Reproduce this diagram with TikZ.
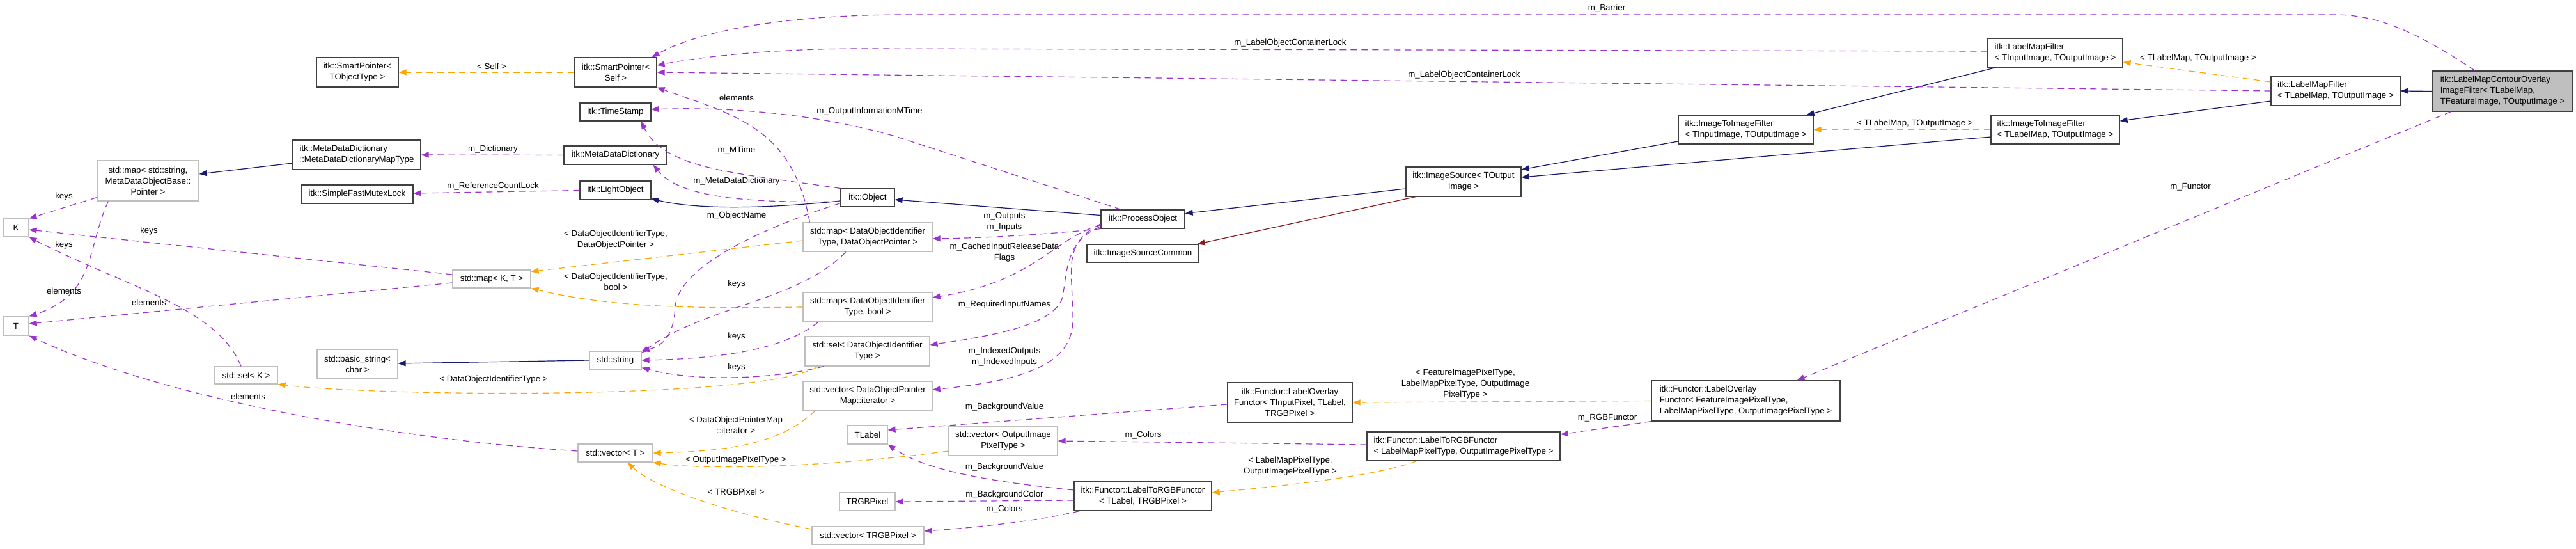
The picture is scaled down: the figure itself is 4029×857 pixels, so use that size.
\documentclass[tikz,border=0pt]{standalone}
\usepackage{fontspec}
\setmainfont{Liberation Sans}
\usetikzlibrary{arrows.meta}
\definecolor{purp}{HTML}{9A32CD}
\definecolor{orng}{HTML}{FFA500}
\definecolor{navyc}{HTML}{191970}
\definecolor{dred}{HTML}{8B1A1A}
\definecolor{bdark}{HTML}{404040}
\definecolor{bgray}{HTML}{BFBFBF}
\begin{document}
\begin{tikzpicture}[x=1pt,y=-1pt,
  every node/.style={font=\fontsize{13.3}{17}\selectfont, inner sep=0pt},
  cls/.style={draw=bdark, line width=1.2pt, fill=white, rectangle, align=center},
  clsl/.style={cls, align=left},
  ext/.style={cls, draw=bgray},
  lbl/.style={align=center},
  inh/.style={draw=navyc, line width=1.2pt, -{Triangle[length=12pt,width=9pt]}},
  prot/.style={inh, draw=dred},
  use/.style={draw=purp, line width=1.2pt, dash pattern=on 10pt off 7pt, -{Triangle[length=12pt,width=9pt]}},
  tmpl/.style={use, draw=orng},
]
\useasboundingbox (0,0) rectangle (4029,857);

% ---------- nodes ----------
\node[cls, minimum width=128pt, minimum height=46pt] (spTO) at (559,113) {itk::SmartPointer<\\TObjectType >};
\node[clsl, minimum width=200pt, minimum height=46pt] (mddMT) at (558,242) {itk::MetaDataDictionary\\::MetaDataDictionaryMapType};
\node[ext, minimum width=159pt, minimum height=63pt] (mapStr) at (231.5,282.5) {std::map< std::string,\\MetaDataObjectBase::\\Pointer >};
\node[cls, minimum width=175pt, minimum height=29pt] (sfml) at (558.5,303.5) {itk::SimpleFastMutexLock};
\node[ext, minimum width=40pt, minimum height=28pt] (K) at (25,356) {K};
\node[ext, minimum width=40pt, minimum height=29pt] (T) at (25,509.5) {T};
\node[ext, minimum width=98pt, minimum height=27pt] (setK) at (385,586.5) {std::set< K >};
\node[ext, minimum width=126pt, minimum height=46pt] (bstr) at (559,569) {std::basic\_string<\\char >};
\node[cls, minimum width=128pt, minimum height=46pt] (spSelf) at (963,113) {itk::SmartPointer<\\Self >};
\node[cls, minimum width=111pt, minimum height=28pt] (ts) at (962.5,175) {itk::TimeStamp};
\node[cls, minimum width=161pt, minimum height=29pt] (mdd) at (962.5,242.5) {itk::MetaDataDictionary};
\node[cls, minimum width=111pt, minimum height=29pt] (lo) at (962.5,297.5) {itk::LightObject};
\node[cls, minimum width=84pt, minimum height=28pt] (obj) at (1357,309) {itk::Object};
\node[ext, minimum width=202pt, minimum height=45pt] (mapDOP) at (1357,370.5) {std::map< DataObjectIdentifier\\Type, DataObjectPointer >};
\node[ext, minimum width=122pt, minimum height=28pt] (mapKT) at (769,436) {std::map< K, T >};
\node[ext, minimum width=202pt, minimum height=46pt] (mapBool) at (1357,480) {std::map< DataObjectIdentifier\\Type, bool >};
\node[ext, minimum width=81pt, minimum height=28pt] (str) at (962.5,563) {std::string};
\node[ext, minimum width=195pt, minimum height=46pt] (setDOIT) at (1356.5,549) {std::set< DataObjectIdentifier\\Type >};
\node[ext, minimum width=202pt, minimum height=45pt] (vecIt) at (1357,618.5) {std::vector< DataObjectPointer\\Map::iterator >};
\node[ext, minimum width=62pt, minimum height=29pt] (tlabel) at (1357,679.5) {TLabel};
\node[ext, minimum width=117pt, minimum height=28pt] (vecT) at (962.5,708) {std::vector< T >};
\node[ext, minimum width=87pt, minimum height=28pt] (trgb) at (1356.5,784) {TRGBPixel};
\node[ext, minimum width=175pt, minimum height=28pt] (vecRGB) at (1357.5,837) {std::vector< TRGBPixel >};
\node[cls, minimum width=131pt, minimum height=29pt] (po) at (1787.5,342.5) {itk::ProcessObject};
\node[cls, minimum width=175pt, minimum height=28pt] (isc) at (1787.5,396) {itk::ImageSourceCommon};
\node[cls, minimum width=195pt, minimum height=62pt] (lofT) at (2017.5,629) {itk::Functor::LabelOverlay\\Functor< TInputPixel, TLabel,\\TRGBPixel >};
\node[ext, minimum width=170pt, minimum height=46pt] (vecOut) at (1569,689) {std::vector< OutputImage\\PixelType >};
\node[cls, minimum width=215pt, minimum height=45pt] (l2rT) at (1787.5,775.5) {itk::Functor::LabelToRGBFunctor\\< TLabel, TRGBPixel >};
\node[cls, minimum width=180pt, minimum height=46pt] (is) at (2289,284) {itk::ImageSource< TOutput\\Image >};
\node[clsl, minimum width=211pt, minimum height=45pt] (i2iIn) at (2730.5,202.5) {itk::ImageToImageFilter\\< TInputImage, TOutputImage >};
\node[clsl, minimum width=302pt, minimum height=45pt] (l2rL) at (2289,697.5) {itk::Functor::LabelToRGBFunctor\\< LabelMapPixelType, OutputImagePixelType >};
\node[clsl, minimum width=295pt, minimum height=63pt] (lofF) at (2730.5,626.5) {itk::Functor::LabelOverlay\\Functor< FeatureImagePixelType,\\ LabelMapPixelType, OutputImagePixelType >};
\node[clsl, minimum width=211pt, minimum height=45pt] (lmfIn) at (3214.5,82.5) {itk::LabelMapFilter\\< TInputImage, TOutputImage >};
\node[clsl, minimum width=201pt, minimum height=45pt] (i2iL) at (3214.5,202.5) {itk::ImageToImageFilter\\< TLabelMap, TOutputImage >};
\node[clsl, minimum width=202pt, minimum height=46pt] (lmfL) at (3653,142) {itk::LabelMapFilter\\< TLabelMap, TOutputImage >};
\node[clsl, fill=bgray, minimum width=218pt, minimum height=63pt] (main) at (3914,142.5) {itk::LabelMapContourOverlay\\ImageFilter< TLabelMap,\\ TFeatureImage, TOutputImage >};

% ---------- inheritance ----------
\draw[inh] ([yshift=-5pt]obj.west) .. controls (1200,326) and (1090,328) .. ([yshift=-13pt]lo.east);
\draw[inh] ([yshift=6pt]po.west) -- ([yshift=-3pt]obj.east);
\draw[inh] ([yshift=-11pt]is.west) -- ([yshift=9pt]po.east);
\draw[prot] ([xshift=-75pt]is.south) -- ([xshift=-3pt]isc.north east);
\draw[inh] ([yshift=-18.5pt]i2iIn.west) -- ([yshift=19pt]is.east);
\draw[inh] ([yshift=-11.5pt]i2iL.west) -- ([yshift=7pt]is.east);
\draw[inh] ([xshift=13pt]lmfIn.south west) -- ([xshift=-11pt]i2iIn.north east);
\draw[inh] ([yshift=-16pt]lmfL.west) -- ([yshift=13.5pt]i2iL.east);
\draw[inh] (main.west) -- (lmfL.east);
\draw[inh] ([yshift=-13pt]mddMT.west) -- ([yshift=10.5pt]mapStr.east);
\draw[inh] (str.west) -- ([yshift=1pt]bstr.east);

% ---------- template instances ----------
\draw[tmpl] (spSelf.west) -- (spTO.east);
\draw[tmpl] ([yshift=-5.5pt]mapDOP.west) -- ([yshift=-3pt]mapKT.north east);
\draw[tmpl] (mapBool.west) .. controls (1100,482) and (960,482) .. (mapKT.south east);
\draw[tmpl] ([xshift=21pt]setDOIT.south west) .. controls (1200,625) and (600,620) .. (setK.south east);
\draw[tmpl] ([xshift=20pt]vecIt.south west) .. controls (1225,690) and (1150,705) .. (vecT.east);
\draw[tmpl] ([yshift=-16pt]vecOut.west) .. controls (1300,730) and (1100,735) .. (vecT.south east);
\draw[tmpl] ([yshift=10pt]vecRGB.west) .. controls (1130,800) and (1020,760) .. ([xshift=19pt]vecT.south);
\draw[tmpl] ([xshift=78pt]l2rL.south west) .. controls (2150,745) and (2000,760) .. ([yshift=5.5pt]l2rT.east);
\draw[tmpl] (lofF.west) -- (lofT.east);
\draw[tmpl] ([yshift=14pt]lmfL.west) -- ([yshift=-14.5pt]lmfIn.east);
\draw[tmpl] (i2iL.west) -- (i2iIn.east);

% ---------- usage ----------
\draw[use] ([xshift=-43pt]main.north) .. controls (3780,50) and (3720,23) .. (3650,23) -- (1420,23) .. controls (1200,23) and (1080,55) .. ([xshift=-8pt]spSelf.north east);
\draw[use] ([yshift=2.5pt]lmfIn.west) -- (1350,76) .. controls (1200,76) and (1090,90) .. ([yshift=11pt]spSelf.east);
\draw[use] (lmfL.west) -- (spSelf.east);
\draw[use] ([xshift=11pt]mapDOP.north west) .. controls (1240,200) and (1150,180) .. (spSelf.south east);
\draw[use] (obj.north west) .. controls (1150,270) and (1040,265) .. ([xshift=40pt]ts.south);
\draw[use] ([xshift=-34pt]po.north) -- (1400,213) .. controls (1250,170) and (1100,168) .. ([yshift=4pt]ts.east);
\draw[use] ([yshift=-6pt]obj.west) .. controls (1150,318) and (1060,305) .. ([xshift=-22pt]mdd.south east);
\draw[use] (mdd.west) -- (mddMT.east);
\draw[use] (lo.west) -- ([yshift=1.5pt]sfml.east);
\draw[use] ([yshift=6pt]obj.south west) .. controls (1180,360) and (1060,420) .. (1056,480) .. controls (1054,520) and (1040,540) .. (str.north east);
\draw[use] ([xshift=-34pt]mapDOP.south) .. controls (1250,470) and (1100,480) .. ([yshift=-3pt]str.north east);
\draw[use] ([xshift=24pt]mapBool.south west) .. controls (1235,540) and (1150,560) .. (str.east);
\draw[use] ([xshift=30pt]setDOIT.south west) .. controls (1200,595) and (1080,595) .. ([yshift=3pt]str.south east);
\draw[use] ([yshift=6pt]mapStr.south west) -- (K.north east);
\draw[use] ([yshift=7pt]mapKT.west) -- ([yshift=-3pt]K.east);
\draw[use] ([xshift=-8pt]setK.north) .. controls (340,480) and (200,450) .. (K.south east);
\draw[use] ([xshift=18pt]mapStr.south west) .. controls (135,390) and (150,460) .. (T.north east);
\draw[use] ([yshift=-6pt]mapKT.west) -- ([yshift=3.5pt]T.east);
\draw[use] ([yshift=3pt]vecT.west) .. controls (600,685) and (250,620) .. (T.south east);
\draw[use] (po.south west) .. controls (1650,365) and (1550,372) .. ([yshift=-2.5pt]mapDOP.east);
\draw[use] ([yshift=-9.5pt]po.west) .. controls (1650,370) and (1620,440) .. ([yshift=15pt]mapBool.east);
\draw[use] ([yshift=-7.5pt]po.west) .. controls (1660,380) and (1670,440) .. (1660,470) .. controls (1640,510) and (1550,525) .. ([yshift=10pt]setDOIT.east);
\draw[use] ([yshift=-11.5pt]po.west) .. controls (1660,380) and (1678,420) .. (1678,500) .. controls (1678,570) and (1600,595) .. ([yshift=9.5pt]vecIt.east);
\draw[use] ([yshift=-3pt]lofT.west) -- ([yshift=7.5pt]tlabel.east);
\draw[use] ([yshift=9.5pt]l2rT.west) .. controls (1520,750) and (1440,730) .. (tlabel.south east);
\draw[use] ([yshift=2.5pt]l2rL.west) -- (vecOut.east);
\draw[use] ([yshift=-6.5pt]l2rT.west) -- (trgb.east);
\draw[use] ([xshift=9pt]l2rT.south west) .. controls (1620,815) and (1520,825) .. ([yshift=7pt]vecRGB.east);
\draw[use] (lofF.south west) -- ([yshift=18.5pt]l2rL.east);
\draw[use] ([xshift=29pt]main.south west) -- ([xshift=-68pt]lofF.north east);

% ---------- labels ----------
\node[lbl] (lb1) at (769,104) {< Self >};
\node[lbl] (lb2) at (963,375) {< DataObjectIdentifierType,\\DataObjectPointer >};
\node[lbl] (lb3) at (963,440) {< DataObjectIdentifierType,\\bool >};
\node[lbl] (lb4) at (772,593) {< DataObjectIdentifierType >};
\node[lbl] (lb5) at (1151,664) {< DataObjectPointerMap\\::iterator >};
\node[lbl] (lb6) at (1151,719) {< OutputImagePixelType >};
\node[lbl] (lb7) at (1151,769) {< TRGBPixel >};
\node[lbl] (lb8) at (2018,729) {< LabelMapPixelType,\\OutputImagePixelType >};
\node[lbl] (lb9) at (2292,600) {< FeatureImagePixelType,\\LabelMapPixelType, OutputImage\\PixelType >};
\node[lbl] (lb10) at (3438,91) {< TLabelMap, TOutputImage >};
\node[lbl] (lb11) at (2995,193) {< TLabelMap, TOutputImage >};
\node[lbl] (lb12) at (2513,13) {m\_Barrier};
\node[lbl] (lb13) at (2018,67) {m\_LabelObjectContainerLock};
\node[lbl] (lb14) at (2290,117) {m\_LabelObjectContainerLock};
\node[lbl] (lb15) at (1152,153) {elements};
\node[lbl] (lb16) at (1152,235) {m\_MTime};
\node[lbl] (lb17) at (1360,174) {m\_OutputInformationMTime};
\node[lbl] (lb18) at (1152,283) {m\_MetaDataDictionary};
\node[lbl] (lb19) at (771,233) {m\_Dictionary};
\node[lbl] (lb20) at (771,291) {m\_ReferenceCountLock};
\node[lbl] (lb21) at (1152,337) {m\_ObjectName};
\node[lbl] (lb22) at (1152,444) {keys};
\node[lbl] (lb23) at (1152,526) {keys};
\node[lbl] (lb24) at (1152,574) {keys};
\node[lbl] (lb25) at (100,307) {keys};
\node[lbl] (lb26) at (233,361) {keys};
\node[lbl] (lb27) at (100,383) {keys};
\node[lbl] (lb28) at (100,455) {elements};
\node[lbl] (lb29) at (233,473) {elements};
\node[lbl] (lb30) at (388,620) {elements};
\node[lbl] (lb31) at (1571,347) {m\_Outputs\\m\_Inputs};
\node[lbl] (lb32) at (1571,395) {m\_CachedInputReleaseData\\Flags};
\node[lbl] (lb33) at (1571,476) {m\_RequiredInputNames};
\node[lbl] (lb34) at (1571,558) {m\_IndexedOutputs\\m\_IndexedInputs};
\node[lbl] (lb35) at (1571,636) {m\_BackgroundValue};
\node[lbl] (lb36) at (1571,730) {m\_BackgroundValue};
\node[lbl] (lb37) at (1788,680) {m\_Colors};
\node[lbl] (lb38) at (1571,773) {m\_BackgroundColor};
\node[lbl] (lb39) at (1571,796) {m\_Colors};
\node[lbl] (lb40) at (2514,653) {m\_RGBFunctor};
\node[lbl] (lb41) at (3426,292) {m\_Functor};
\end{tikzpicture}
\end{document}
